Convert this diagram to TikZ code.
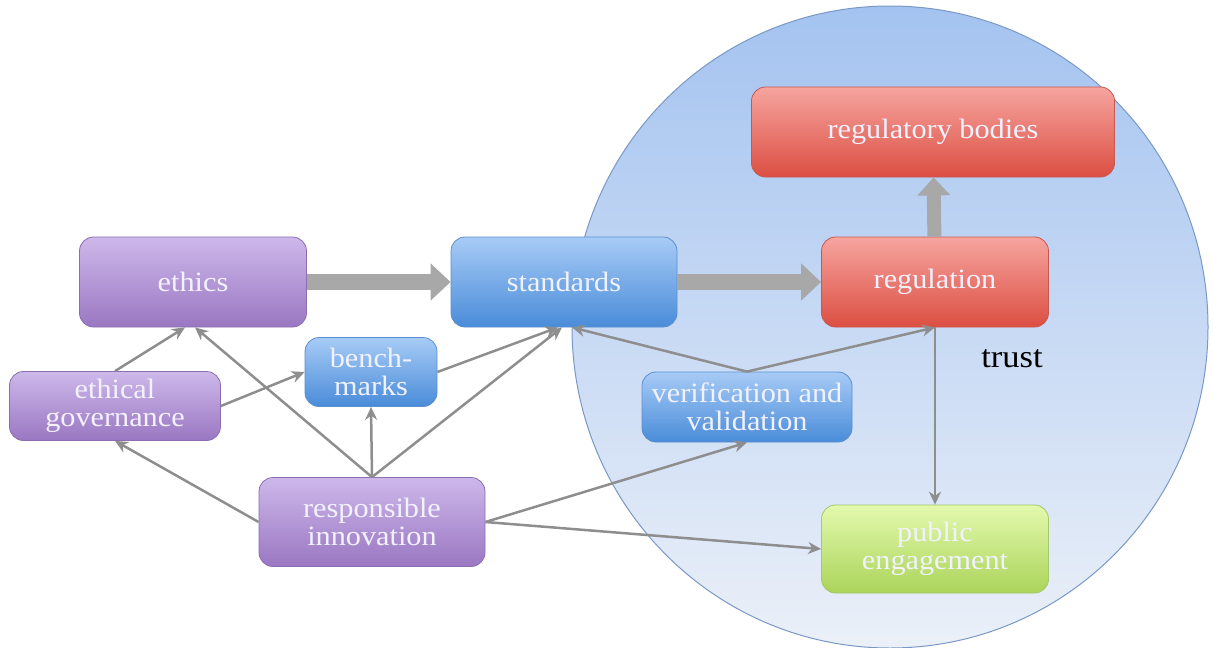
\documentclass[tikz,border=0pt]{standalone}
\usepackage{fontspec}
\setmainfont{Liberation Serif}
\newfontfamily\widefont[FakeStretch=1.08]{Liberation Serif}
\usetikzlibrary{arrows,arrows.meta,shapes}
\definecolor{purpleT}{HTML}{CDB8EA}
\definecolor{purpleB}{HTML}{9A77C2}
\definecolor{purpleD}{HTML}{8C6DB2}
\definecolor{blueT}{HTML}{A7CBF6}
\definecolor{blueB}{HTML}{4A8CD9}
\definecolor{blueD}{HTML}{5B8FCF}
\definecolor{redT}{HTML}{F6A59F}
\definecolor{redB}{HTML}{DC4E42}
\definecolor{redD}{HTML}{C9574E}
\definecolor{greenT}{HTML}{E3F9AE}
\definecolor{greenB}{HTML}{ABD45A}
\definecolor{greenD}{HTML}{A4C86A}
\definecolor{trustT}{HTML}{A4C3F0}
\definecolor{trustB}{HTML}{EBF0F8}
\definecolor{trustD}{HTML}{7A98C6}
\definecolor{lineg}{HTML}{8E8E8E}
\definecolor{fatg}{HTML}{A8A8A8}
\tikzstyle{bt} = [rectangle, rounded corners=14pt, text=white!95!blue, align=center,
    font=\widefont\fontsize{28}{28}\selectfont, inner sep=0pt, line width=0.8pt]
\tikzstyle{purplebt} = [bt, top color=purpleT, bottom color=purpleB, draw=purpleD]
\tikzstyle{bluebt} = [bt, top color=blueT, bottom color=blueB, draw=blueD]
\tikzstyle{redbt} = [bt, top color=redT, bottom color=redB, draw=redD]
\tikzstyle{greenbt} = [bt, top color=greenT, bottom color=greenB, draw=greenD]
\tikzstyle{fatarrow} = [-{Triangle[width=36pt,length=20pt]}, line width=16pt, fatg]

\begin{document}
\begin{tikzpicture}[x=1pt,y=1pt,->,>={Stealth[length=13pt,width=12pt]},
                    line width=2.5pt,lineg]
  \useasboundingbox (0,0) rectangle (1213,-648);

  % trust circle
  \shade[top color=trustT, bottom color=trustB, draw=trustD, line width=1pt]
    (890,-327) ellipse [x radius=318, y radius=321];
  \node[font=\widefont\fontsize{32}{32}\selectfont, text=black, anchor=base] (trust) at (1012,-367) {trust};

  \node[purplebt, minimum width=227pt, minimum height=90pt] (ethics)    at (193,-282) {ethics};
  \node[bluebt,   minimum width=226pt, minimum height=90pt] (standards) at (564,-282) {standards};
  \node[redbt,    minimum width=227pt, minimum height=90pt] (regulation) at (935,-282) {regulation};
  \node[redbt,    minimum width=363pt, minimum height=90pt] (bodies)    at (933,-132) {regulatory bodies};
  \node[bluebt,   minimum width=132pt, minimum height=69pt] (bench)     at (371,-372) {bench-\\marks};
  \node[purplebt, minimum width=211pt, minimum height=69pt] (gov)       at (115,-406) {ethical\\governance};
  \node[bluebt,   minimum width=210pt, minimum height=70pt] (vv)        at (747,-407) {verification and\\validation};
  \node[purplebt, minimum width=226pt, minimum height=89pt] (ri)        at (372,-522) {responsible\\innovation};
  \node[greenbt,  minimum width=227pt, minimum height=88pt] (public)    at (935,-549) {public\\engagement};

  % main flow
  \draw[fatarrow] (ethics) -- (standards);
  \draw[fatarrow] (standards) -- (regulation);
  \draw[fatarrow, -{Triangle[width=32pt,length=18pt]}, line width=14pt] (regulation) -- (bodies);

  \path (gov.north) edge ([xshift=-8pt]ethics.south)
        (gov.east) edge (bench.west)
        (bench.east) edge ([xshift=-6pt]standards.south)
        (ri.north) edge ([xshift=2pt]ethics.south)
                   edge (bench.south)
                   edge ([xshift=-2pt]standards.south)
        (ri.west) edge (gov.south)
        (ri.east) edge (vv.south)
                  edge (public.west)
        (vv.north) edge ([xshift=8pt]standards.south)
                   edge (regulation.south)
        (regulation.south) edge (public.north);
\end{tikzpicture}
\end{document}
